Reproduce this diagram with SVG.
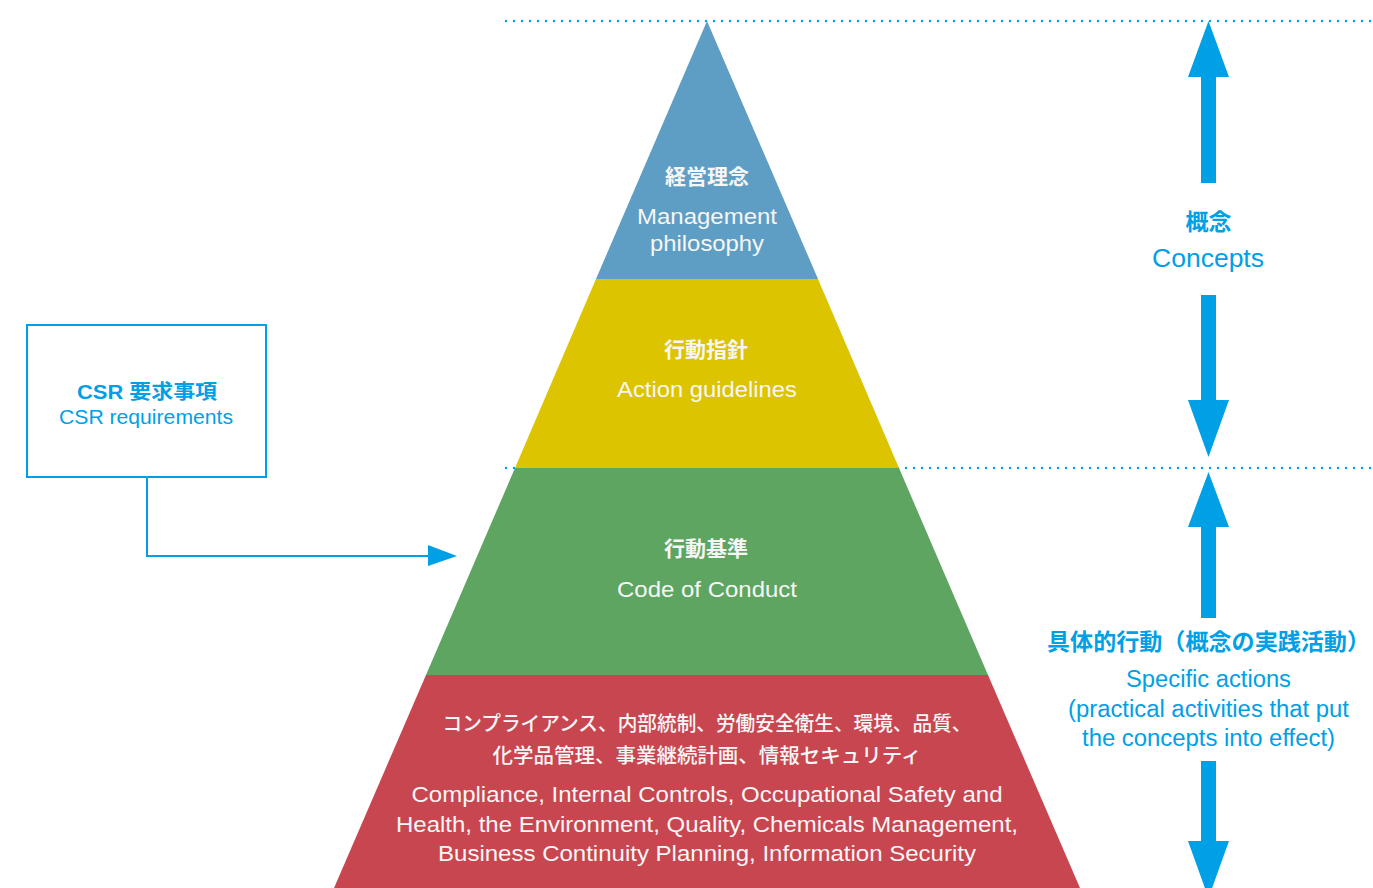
<svg xmlns="http://www.w3.org/2000/svg" width="1373" height="888" viewBox="0 0 1373 888">
<style>
.jp{font-family:"Noto Sans CJK JP","Noto Sans",sans-serif;}
.en{font-family:"Liberation Sans",Arial,sans-serif;}
.w{fill:#f6f6f6;}
.a{fill:#00a0e6;}
.b{font-weight:bold;}
.dot{stroke:#00a0e6;stroke-width:2.4;stroke-dasharray:0 8;stroke-linecap:round;fill:none;}
</style>
<rect width="1373" height="888" fill="#ffffff"/>
<g id="guides">
<line class="dot" x1="506" y1="21" x2="1373" y2="21"/>
<line class="dot" x1="506" y1="468" x2="1373" y2="468"/>
</g>
<g id="layer-philosophy">
<polygon points="707,21 818,279 596,279" fill="#5f9ec4"/>
<text class="jp b w" x="707" y="184" font-size="21" text-anchor="middle">経営理念</text>
<text class="en w" x="707" y="224" font-size="22" text-anchor="middle" textLength="140" lengthAdjust="spacingAndGlyphs">Management</text>
<text class="en w" x="707" y="251" font-size="22" text-anchor="middle" textLength="114" lengthAdjust="spacingAndGlyphs">philosophy</text>
</g>
<g id="layer-guidelines">
<polygon points="596,279 818,279 899,468 515,468" fill="#dcc400"/>
<text class="jp b w" x="706" y="357" font-size="21" text-anchor="middle">行動指針</text>
<text class="en w" x="707" y="397" font-size="22" text-anchor="middle" textLength="180" lengthAdjust="spacingAndGlyphs">Action guidelines</text>
</g>
<g id="layer-conduct">
<polygon points="515,468 899,468 988,675 426,675" fill="#5ea562"/>
<text class="jp b w" x="706" y="556" font-size="21" text-anchor="middle">行動基準</text>
<text class="en w" x="707" y="597" font-size="22" text-anchor="middle" textLength="180" lengthAdjust="spacingAndGlyphs">Code of Conduct</text>
</g>
<g id="layer-specific">
<polygon points="426,675 988,675 1080,888 334,888" fill="#c84650"/>
<text class="jp w" x="707" y="731" font-size="20" font-weight="500" text-anchor="middle" textLength="529" lengthAdjust="spacingAndGlyphs">コンプライアンス、内部統制、労働安全衛生、環境、品質、</text>
<text class="jp w" x="707" y="763" font-size="20" font-weight="500" text-anchor="middle" textLength="429" lengthAdjust="spacingAndGlyphs">化学品管理、事業継続計画、情報セキュリティ</text>
<text class="en w" x="707" y="802" font-size="22" text-anchor="middle" textLength="591" lengthAdjust="spacingAndGlyphs">Compliance, Internal Controls, Occupational Safety and</text>
<text class="en w" x="707" y="832" font-size="22" text-anchor="middle" textLength="622" lengthAdjust="spacingAndGlyphs">Health, the Environment, Quality, Chemicals Management,</text>
<text class="en w" x="707" y="861" font-size="22" text-anchor="middle" textLength="538" lengthAdjust="spacingAndGlyphs">Business Continuity Planning, Information Security</text>
</g>
<g id="csr">
<rect x="27" y="325" width="239" height="152" fill="#ffffff" stroke="#00a0e6" stroke-width="2"/>
<text class="a b jp" x="147" y="399" font-size="20" text-anchor="middle" textLength="140" lengthAdjust="spacingAndGlyphs"><tspan class="en">CSR </tspan>要求事項</text>
<text class="en a" x="146" y="424" font-size="20" text-anchor="middle" textLength="174" lengthAdjust="spacingAndGlyphs">CSR requirements</text>
</g>
<g id="connectors">
<polyline points="147,477 147,556 430,556" fill="none" stroke="#00a0e6" stroke-width="2"/>
<polygon points="428,545 457,556 428,566" fill="#00a0e6"/>
</g>
<g id="concepts">
<polygon points="1208.5,21 1229,77 1216,77 1216,183 1201,183 1201,77 1188,77" fill="#00a0e6"/>
<polygon points="1201,295 1216,295 1216,400 1229,400 1208.5,457 1188,400 1201,400" fill="#00a0e6"/>
<text class="jp b a" x="1208.5" y="230" font-size="23" text-anchor="middle">概念</text>
<text class="en a" x="1208" y="267" font-size="25" text-anchor="middle" textLength="112" lengthAdjust="spacingAndGlyphs">Concepts</text>
</g>
<g id="specific-actions">
<polygon points="1208.5,472 1229,527 1216,527 1216,618 1201,618 1201,527 1188,527" fill="#00a0e6"/>
<polygon points="1201,761 1216,761 1216,841 1229,841 1208.5,898 1188,841 1201,841" fill="#00a0e6"/>
<text class="jp b a" x="1208.5" y="650" font-size="23" text-anchor="middle" textLength="323" lengthAdjust="spacingAndGlyphs">具体的行動（概念の実践活動）</text>
<text class="en a" x="1208.5" y="687" font-size="23" text-anchor="middle" textLength="165" lengthAdjust="spacingAndGlyphs">Specific actions</text>
<text class="en a" x="1208.5" y="717" font-size="23" text-anchor="middle" textLength="281" lengthAdjust="spacingAndGlyphs">(practical activities that put</text>
<text class="en a" x="1208.5" y="746" font-size="23" text-anchor="middle" textLength="253" lengthAdjust="spacingAndGlyphs">the concepts into effect)</text>
</g>
</svg>
